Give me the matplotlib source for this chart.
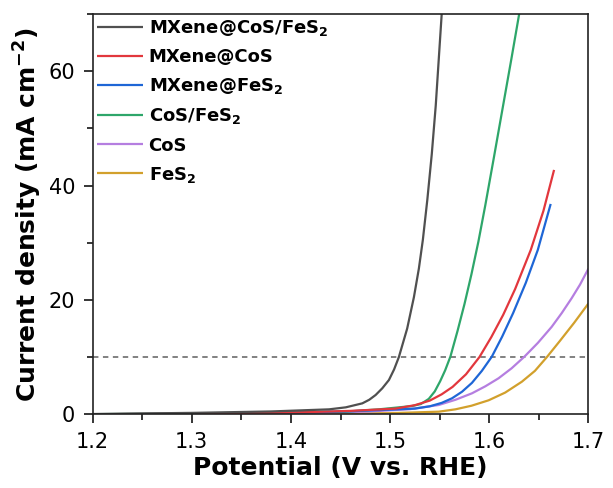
import matplotlib
matplotlib.use("Agg")
import matplotlib.pyplot as plt
from matplotlib.ticker import MultipleLocator

plt.rcParams['font.family'] = ['DejaVu Sans']
plt.rcParams['mathtext.fontset'] = 'dejavusans'

# LSV polarization curves: potential (V vs. RHE) and current density (mA cm^-2)
labels = [r'MXene@CoS/FeS$_\mathbf{2}$', 'MXene@CoS', r'MXene@FeS$_\mathbf{2}$',
          r'CoS/FeS$_\mathbf{2}$', 'CoS', r'FeS$_\mathbf{2}$']
colors = ['#505050', '#e2373d', '#1e66d6', '#2ea66a', '#b57ee0', '#d2a02c']

v_mxene_cos_fes2 = [1.20, 1.30, 1.38, 1.4385, 1.4553, 1.472, 1.479, 1.4854, 1.4921, 1.4988,
                    1.5040, 1.5088, 1.5172, 1.5240, 1.5290, 1.5330, 1.5375, 1.5420, 1.5460,
                    1.5490, 1.5520, 1.5526]
j_mxene_cos_fes2 = [0.05, 0.25, 0.5, 0.87, 1.22, 1.92, 2.55, 3.38, 4.55, 6.0,
                    7.85, 10.0, 15.0, 20.5, 25.5, 30.5, 37.5, 45.5, 54.0,
                    62.0, 70.0, 71.6]

v_mxene_cos = [1.20, 1.30, 1.40, 1.46, 1.5055, 1.525, 1.540, 1.552, 1.563, 1.5765,
               1.590, 1.602, 1.614, 1.626, 1.6418, 1.6546, 1.6653]
j_mxene_cos = [0.02, 0.1, 0.3, 0.6, 1.0, 1.6, 2.4, 3.5, 4.8, 7.0,
               10.0, 13.5, 17.4, 21.9, 28.75, 35.6, 42.75]

v_mxene_fes2 = [1.20, 1.30, 1.40, 1.47, 1.525, 1.540, 1.552, 1.5624, 1.5725, 1.5825,
                1.5925, 1.6026, 1.6130, 1.6240, 1.6368, 1.6489, 1.6619]
j_mxene_fes2 = [0.02, 0.08, 0.25, 0.6, 1.0, 1.4, 2.0, 2.8, 3.95, 5.5,
                7.6, 10.1, 13.6, 17.7, 23.0, 28.75, 36.8]

v_cos_fes2 = [1.20, 1.30, 1.40, 1.455, 1.4887, 1.5222, 1.531, 1.539, 1.545, 1.5505,
              1.5555, 1.5608, 1.568, 1.575, 1.582, 1.589, 1.596, 1.6045, 1.6134,
              1.6222, 1.6311, 1.6318]
j_cos_fes2 = [0.03, 0.15, 0.35, 0.46, 0.87, 1.45, 1.8, 2.7, 4.0, 5.8,
              7.7, 10.1, 14.6, 19.3, 24.5, 30.2, 36.6, 44.8, 53.5,
              62.1, 71.0, 71.7]

v_cos = [1.20, 1.30, 1.40, 1.48, 1.52, 1.549, 1.566, 1.5825, 1.596, 1.6093,
         1.6225, 1.6355, 1.649, 1.6629, 1.673, 1.683, 1.6915, 1.70]
j_cos = [0.02, 0.05, 0.15, 0.5, 0.9, 1.63, 2.55, 3.67, 4.9, 6.3,
         8.05, 10.1, 12.5, 15.3, 17.7, 20.3, 22.7, 25.5]

v_fes2 = [1.20, 1.30, 1.40, 1.50, 1.549, 1.5658, 1.582, 1.5993, 1.616, 1.6328,
          1.646, 1.658, 1.671, 1.6855, 1.70]
j_fes2 = [0.02, 0.04, 0.08, 0.2, 0.46, 0.87, 1.5, 2.45, 3.8, 5.7,
          7.6, 10.0, 12.8, 16.0, 19.4]

series = [(v_mxene_cos_fes2, j_mxene_cos_fes2), (v_mxene_cos, j_mxene_cos),
          (v_mxene_fes2, j_mxene_fes2), (v_cos_fes2, j_cos_fes2),
          (v_cos, j_cos), (v_fes2, j_fes2)]

fig = plt.figure(figsize=(6.13, 4.88), dpi=100)
ax = fig.add_axes([0.151, 0.151, 0.809, 0.820])

ax.axhline(10, color='#777777', lw=1.3, ls=(0, (3, 2.5)), zorder=1)

# draw in reverse order so the first sample ends up on top
for (v, j), lab, col in reversed(list(zip(series, labels, colors))):
    ax.plot(v, j, color=col, lw=1.6, label=lab, zorder=2,
            solid_joinstyle='round', solid_capstyle='butt')

ax.set_xlim(1.2, 1.7)
ax.set_ylim(0, 70)
ax.xaxis.set_major_locator(MultipleLocator(0.1))
ax.xaxis.set_minor_locator(MultipleLocator(0.05))
ax.yaxis.set_major_locator(MultipleLocator(20))
ax.yaxis.set_minor_locator(MultipleLocator(10))
ax.tick_params(which='both', direction='out', labelsize=15, width=1.1, pad=6)
ax.tick_params(which='major', length=6.5)
ax.tick_params(which='minor', length=4)
for s in ax.spines.values():
    s.set_linewidth(1.2)
    s.set_color('#222222')

ax.set_xlabel('Potential (V vs. RHE)', fontsize=18, fontweight='bold', labelpad=3)
ax.set_ylabel(r'Current density (mA cm$^{\mathbf{-2}}$)', fontsize=18,
              fontweight='bold', labelpad=3)

handles, labs = ax.get_legend_handles_labels()
handles, labs = handles[::-1], labs[::-1]
ax.legend(handles, labs, loc='upper left', frameon=False,
          prop={'weight': 'bold', 'size': 13}, handlelength=2.55,
          handletextpad=0.33, labelspacing=0.56, borderaxespad=0.0,
          borderpad=0.22)

fig.savefig('out.png', dpi=100)
